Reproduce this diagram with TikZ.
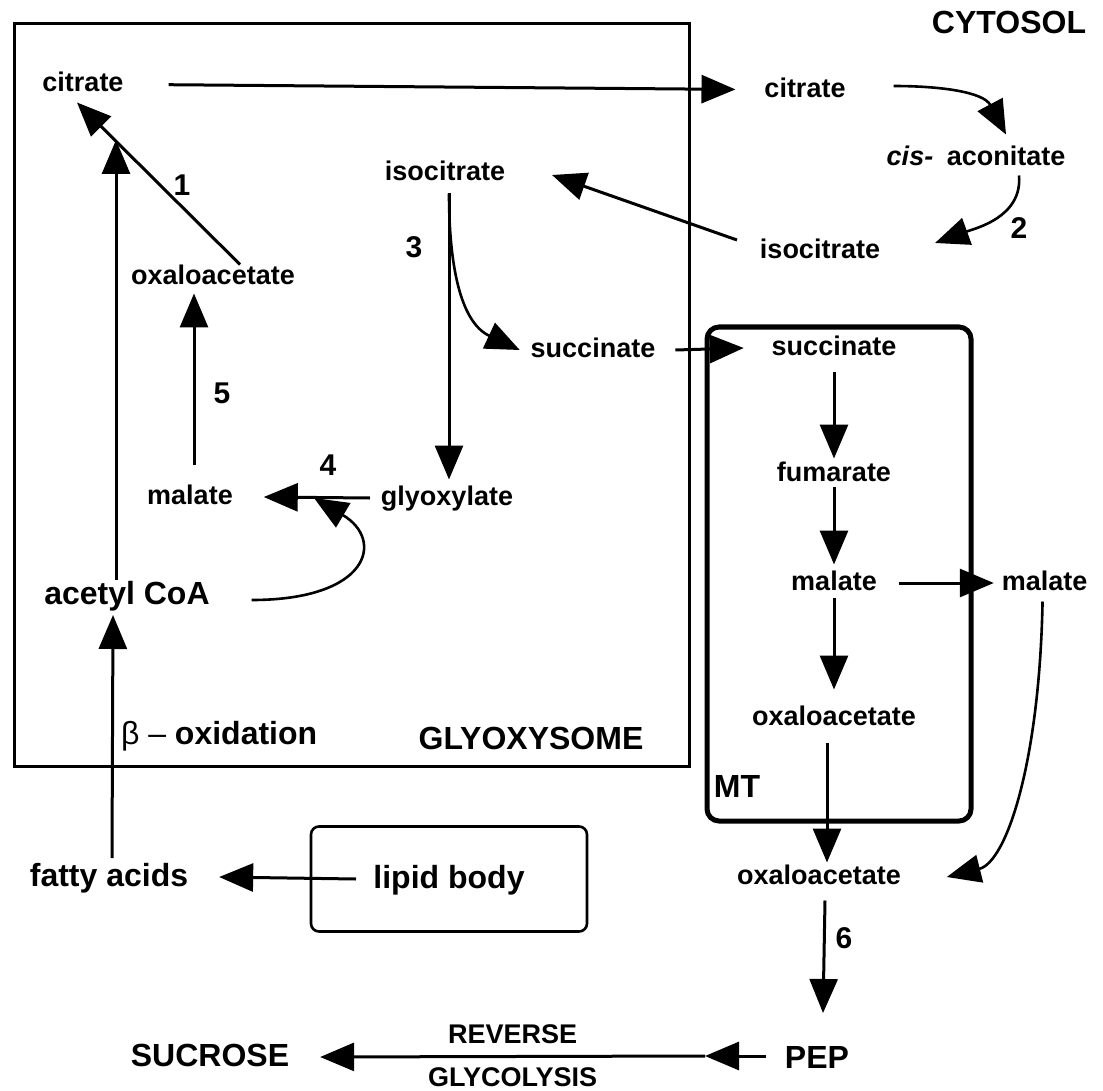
\documentclass[tikz,border=0pt]{standalone}
\usepackage{fontspec}
\setmainfont{Liberation Sans}
\usetikzlibrary{positioning,arrows.meta}

\begin{document}
\begin{tikzpicture}[x=0.5pt, y=-0.5pt,
    met/.style={font=\fontsize{13.5}{15}\selectfont\bfseries, inner sep=0pt, outer sep=0pt, text height=10pt, text depth=2.5pt},
    big/.style={font=\fontsize{16}{18}\selectfont\bfseries, inner sep=0pt, outer sep=0pt, text height=12pt, text depth=3pt},
    num/.style={font=\fontsize{15}{17}\selectfont\bfseries, inner sep=0pt},
    arr/.style={-{Triangle[length=17pt,width=14pt]}, line width=1.5pt}]

    \useasboundingbox (0,0) rectangle (1103,1091);

    % compartments
    \node[draw, line width=1.5pt, minimum width=337.5pt, minimum height=371pt] (glyoxysome) at (351.5,395) {};
    \node[draw, line width=2.5pt, rounded corners=6pt, minimum width=132pt, minimum height=247pt] (mito) at (839,574) {};
    \node[big, draw, line width=1.3pt, rounded corners=4pt, minimum width=138pt, minimum height=52.5pt] (lipid) at (449,879) {lipid body};

    \node[big] (cytosol) at (1009,25) {CYTOSOL};
    \node[big] (glyoxlabel) at (531,740) {GLYOXYSOME};
    \node[big] (mtlabel) at (737,788) {MT};
    \node[big, anchor=west] (betaox) at (121,735) {\mdseries β – \bfseries oxidation};

    % glyoxysome
    \node[met] (citL) at (83,84) {citrate};
    \node[met] (isoL) at (445,173) {isocitrate};
    \node[met] (oxaL) at (213,277) {oxaloacetate};
    \node[met] (succL) at (593,350) {succinate};
    \node[met] (malL) at (190,497) {malate};
    \node[met] (glyox) at (447,498) {glyoxylate};
    \node[big] (acetyl) at (127,595) {acetyl CoA};
    \node[big] (fatty) at (109,877) {fatty acids};

    % cytosol
    \node[met] (citR) at (805,90) {citrate};
    \node[met] (cisac) at (976,158) {\textit{cis-}\hspace{0.5em}aconitate};
    \node[met] (isoR) at (820,251) {isocitrate};

    % mitochondrion
    \node[met] (succM) at (834,348) {succinate};
    \node[met, below=50.5pt of succM] (fumM) {fumarate};
    \node[met, below=42pt of fumM] (malM) {malate};
    \node[met, below=55pt of malM] (oxaM) {oxaloacetate};
    \node[met, right=62.5pt of malM] (malR) {malate};
    \node[met] (oxaB) at (819,877) {oxaloacetate};
    \node[big] (pep) at (817,1059) {PEP};
    \node[big] (sucrose) at (210,1057) {SUCROSE};

    \node[num] (n1) at (182,185) {1};
    \node[num] (n2) at (1019,228) {2};
    \node[num] (n3) at (414,247) {3};
    \node[num] (n4) at (328,465) {4};
    \node[num] (n5) at (222,393) {5};
    \node[num] (n6) at (844,938) {6};

    \coordinate (rx4) at (314,498);
    \coordinate (rgmid) at (705,1056);

    % reactions
    \draw[arr, shorten <=22.5pt, shorten >=14.5pt] (citL) -- (citR);
    \draw[arr, line width=1.3pt] ([xshift=24pt,yshift=2pt]citR.east) to[out=0,in=118] ([xshift=15pt,yshift=5.5pt]cisac.north);
    \draw[arr, line width=1.3pt] ([xshift=21.5pt,yshift=-2.5pt]cisac.south) to[out=-85,in=20] ([xshift=27.5pt,yshift=4pt]isoR.east);
    \draw[arr] ([xshift=-11.5pt,yshift=5.5pt]isoR.west) -- ([xshift=23.5pt,yshift=-1pt]isoL.east);
    \draw[arr] ([xshift=2pt,yshift=-4pt]isoL.south) -- ([xshift=1pt,yshift=3pt]glyox.north);
    \draw[arr, line width=1.3pt] ([xshift=2pt,yshift=-4pt]isoL.south) to[out=-90,in=155] ([xshift=-5.5pt]succL.west);
    \draw[arr] ([xshift=10pt]succL.east) -- ([xshift=-14pt]succM.west);
    \draw[arr] ([yshift=-5.5pt]succM.south) -- ([yshift=1.5pt]fumM.north);
    \draw[arr] (fumM.south) -- ([yshift=3pt]malM.north);
    \draw[arr] ([yshift=-1pt]malM.south) -- ([yshift=8pt]oxaM.north);
    \draw[arr] ([xshift=11pt]malM.east) -- ([xshift=-4pt]malR.west);
    \draw[arr] ([xshift=-3.5pt,yshift=-6pt]oxaM.south) -- ([xshift=4pt,yshift=1pt]oxaB.north);
    \draw[arr, line width=1.3pt] ([xshift=-1pt,yshift=-3pt]malR.south) .. controls +(-3,160) and +(60,-15) .. ([xshift=23pt]oxaB.east);
    \draw[arr] ([xshift=3pt,yshift=-5.5pt]oxaB.south) -- ([xshift=3pt,yshift=15.5pt]pep.north);
    \draw[arr] ([xshift=-9.5pt,yshift=1.5pt]pep.west) -- (rgmid);
    \draw[arr] (rgmid) -- ([xshift=15.5pt]sucrose.east)
        node[midway, above=4pt, met] (reverse) {REVERSE}
        node[midway, below=5pt, met] (glycolysis) {GLYCOLYSIS};
    \draw[arr] ([xshift=22.5pt]lipid.west) -- ([xshift=15.5pt]fatty.east);
    \draw[arr] ([xshift=1.5pt,yshift=2pt]fatty.north) -- ([xshift=-7pt,yshift=-2.5pt]acetyl.south);
    \draw[arr] ([xshift=-5.5pt]acetyl.north) -- ([xshift=16.5pt,yshift=-21.75pt]citL.south);
    \draw[arr] ([xshift=13.5pt]oxaL.north) -- ([xshift=-3pt,yshift=-3pt]citL.south);
    \draw[arr] ([xshift=2pt,yshift=10pt]malL.north) -- ([xshift=-9.5pt,yshift=-2pt]oxaL.south);
    \draw[arr] ([xshift=-5.5pt]glyox.west) -- ([xshift=15.5pt]malL.east);
    \draw[arr, line width=1.3pt] ([xshift=21pt,yshift=-2.5pt]acetyl.east) .. controls +(118,0) and +(71,42) .. (rx4);

\end{tikzpicture}
\end{document}
